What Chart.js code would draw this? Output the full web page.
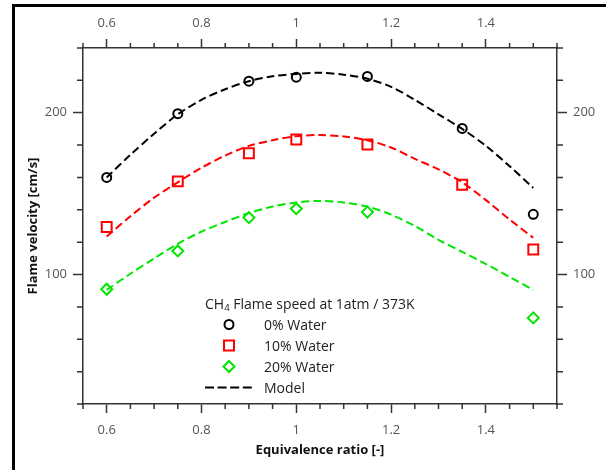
<!DOCTYPE html>
<html>
<head>
<meta charset="utf-8">
<script src="https://cdn.jsdelivr.net/npm/chart.js@4.4.0/dist/chart.umd.min.js"></script>
<style>
html,body{margin:0;padding:0;background:#fff;}
#wrap{position:relative;width:606px;height:470px;overflow:hidden;font-family:"Open Sans",sans-serif;}
#c{position:absolute;left:0;top:0;}
#frame{position:absolute;left:12px;top:4px;width:620px;height:500px;border-left:3px solid #000;border-top:3px solid #000;pointer-events:none;}
#legend{position:absolute;left:205px;top:293px;font-size:14px;color:#222;}
#legend .title{height:21px;line-height:21px;white-space:nowrap;}
#legend .title sub{font-size:9.5px;vertical-align:-2px;line-height:0;}
#legend .row{display:flex;align-items:center;height:21px;white-space:nowrap;}
#legend .row svg{width:59px;height:21px;flex:none;}
</style>
</head>
<body>
<div id="wrap">
  <canvas id="c" width="606" height="470"></canvas>
  <div id="frame"></div>
  <div id="legend"></div>
</div>
<script>
// ---- data ----
const phi = [0.6, 0.75, 0.9, 1.0, 1.15, 1.35, 1.5];
const water0 = [160, 199.4, 219.5, 222, 222.4, 190.3, 137.2];
const water10 = [129.4, 157.6, 175, 183.5, 180.4, 155.5, 115.5];
const water20 = [90.9, 114.6, 135.2, 140.7, 138.6, null, 73.2];

const modelPhi = [0.6, 0.65, 0.7, 0.75, 0.8, 0.85, 0.9, 0.95, 1.0, 1.05, 1.1, 1.15, 1.2, 1.25, 1.3, 1.35, 1.4, 1.45, 1.5];
const model0 = [160, 174, 187, 199, 208, 214.5, 219.5, 222.5, 224, 224.7, 223.5, 221, 216, 208, 199, 190, 179.5, 167, 153.5];
const model10 = [123.5, 136, 147.5, 157, 166, 173.5, 179.5, 183, 185.5, 186.2, 185.3, 183, 178.5, 171.5, 165, 157, 146, 134, 122.7];
const model20 = [90.5, 100.5, 110, 119, 126.5, 132.5, 138, 142, 144.5, 145.5, 144.5, 142, 137, 130, 121.5, 114, 106.5, 98.5, 90.5];

const seriesNames = ['0% Water', '10% Water', '20% Water', 'Model'];
const legendTitle = 'CH|4| Flame speed at 1atm / 373K';

const xMajorTicks = [0.6, 0.8, 1.0, 1.2, 1.4];
const xMinorTicks = [0.55, 0.65, 0.7, 0.75, 0.85, 0.9, 0.95, 1.05, 1.1, 1.15, 1.25, 1.3, 1.35, 1.45, 1.5, 1.55];
const yMajorTicks = [100, 200];
const yMinorTicks = [20, 40, 60, 80, 120, 140, 160, 180, 220, 240];

const xTitle = 'Equivalence ratio [-]';
const yTitle = 'Flame velocity [cm/s]';

// ---- helpers ----
const FONT = '"Open Sans", sans-serif';
const AXIS = '#333';
const LABEL = '#555';
const pts = (xs, ys) => xs.map((x, i) => ({x: x, y: ys[i]})).filter(p => p.y !== null);
const fmt = v => String(Math.round(v * 10) / 10);

function xScale(pos) {
  return {
    type: 'linear', position: pos, min: 0.55, max: 1.55,
    afterBuildTicks: s => { s.ticks = xMajorTicks.map(v => ({value: v})); },
    afterFit: s => { s.height = pos === 'bottom' ? 66 : 48; },
    ticks: {callback: v => fmt(v), color: LABEL, font: {family: FONT, size: 13}, padding: pos === 'bottom' ? 9 : 8, maxRotation: 0, autoSkip: false},
    grid: {drawOnChartArea: false, tickLength: 9, tickColor: AXIS, tickWidth: 1.5},
    border: {color: AXIS, width: 1.5},
    title: pos === 'bottom' ? {display: true, text: xTitle, color: '#111', font: {family: FONT, size: 13, weight: 'bold'}, padding: {top: 0, bottom: 12}} : {display: false}
  };
}
function yScale(pos) {
  return {
    type: 'linear', position: pos, min: 20, max: 240,
    afterBuildTicks: s => { s.ticks = yMajorTicks.map(v => ({value: v})); },
    afterFit: s => { s.width = pos === 'left' ? 83 : 49; },
    ticks: {callback: v => String(v), color: LABEL, font: {family: FONT, size: 13}, padding: 6, autoSkip: false},
    grid: {drawOnChartArea: false, tickLength: 10, tickColor: AXIS, tickWidth: 1.5},
    border: {color: AXIS, width: 1.5},
    title: pos === 'left' ? {display: true, text: yTitle, color: '#111', font: {family: FONT, size: 13, weight: 'bold'}, padding: {top: 25, bottom: 0}} : {display: false}
  };
}

const minorTicks = {
  id: 'minorTicks',
  afterDraw(chart) {
    const ctx = chart.ctx;
    const {x, x2, y, y2} = chart.scales;
    ctx.save();
    ctx.strokeStyle = AXIS;
    ctx.lineWidth = 1.5;
    ctx.beginPath();
    xMinorTicks.forEach(v => {
      const p = x.getPixelForValue(v);
      ctx.moveTo(p, x.top); ctx.lineTo(p, x.top + 5);
      const q = x2.getPixelForValue(v);
      ctx.moveTo(q, x2.bottom); ctx.lineTo(q, x2.bottom - 5);
    });
    yMinorTicks.forEach(v => {
      const p = y.getPixelForValue(v);
      ctx.moveTo(y.right, p); ctx.lineTo(y.right - 6, p);
      const q = y2.getPixelForValue(v);
      ctx.moveTo(y2.left, q); ctx.lineTo(y2.left + 6, q);
    });
    ctx.stroke();
    ctx.restore();
  }
};

const BLACK = '#000000', RED = '#ff0000', GREEN = '#00e600';
const markerDs = (label, data, color, style, r) => ({
  label: label, data: data, showLine: false,
  pointStyle: style, pointRadius: r, pointBorderWidth: 2,
  pointBorderColor: color, pointBackgroundColor: 'rgba(0,0,0,0)', borderColor: color, clip: false
});
const lineDs = (data, color) => ({
  label: seriesNames[3], data: data, showLine: true, pointRadius: 0,
  borderColor: color, borderWidth: 2, borderDash: [8, 4], tension: 0.3, fill: false
});

new Chart(document.getElementById('c'), {
  type: 'scatter',
  data: {
    datasets: [
      markerDs(seriesNames[0], pts(phi, water0), BLACK, 'circle', 4.5),
      markerDs(seriesNames[1], pts(phi, water10), RED, 'rect', 7),
      markerDs(seriesNames[2], pts(phi, water20), GREEN, 'rectRot', 5.5),
      lineDs(pts(modelPhi, model0), BLACK),
      lineDs(pts(modelPhi, model10), RED),
      lineDs(pts(modelPhi, model20), GREEN)
    ]
  },
  options: {
    responsive: false, animation: false, devicePixelRatio: 1, events: [],
    layout: {padding: 0},
    plugins: {legend: {display: false}, tooltip: {enabled: false}},
    scales: {x: xScale('bottom'), x2: xScale('top'), y: yScale('left'), y2: yScale('right')}
  },
  plugins: [minorTicks]
});

// ---- HTML legend ----
const leg = document.getElementById('legend');
const tp = legendTitle.split('|');
const t = document.createElement('div');
t.className = 'title';
t.appendChild(document.createTextNode(tp[0]));
const sub = document.createElement('sub'); sub.textContent = tp[1]; t.appendChild(sub);
t.appendChild(document.createTextNode(tp[2]));
leg.appendChild(t);
const markers = [
  '<circle cx="24" cy="10.5" r="4.5" fill="none" stroke="' + BLACK + '" stroke-width="2"/>',
  '<rect x="19" y="5.5" width="10" height="10" fill="none" stroke="' + RED + '" stroke-width="2"/>',
  '<polygon points="24,5 29.5,10.5 24,16 18.5,10.5" fill="none" stroke="' + GREEN + '" stroke-width="2"/>',
  '<line x1="0" y1="10.5" x2="47" y2="10.5" stroke="' + BLACK + '" stroke-width="2" stroke-dasharray="9,3.6"/>'
];
seriesNames.forEach((n, i) => {
  const r = document.createElement('div');
  r.className = 'row';
  r.innerHTML = '<svg viewBox="0 0 59 21" xmlns="http://www.w3.org/2000/svg">' + markers[i] + '</svg>';
  const s = document.createElement('span'); s.textContent = n; r.appendChild(s);
  leg.appendChild(r);
});
</script>
</body>
</html>
